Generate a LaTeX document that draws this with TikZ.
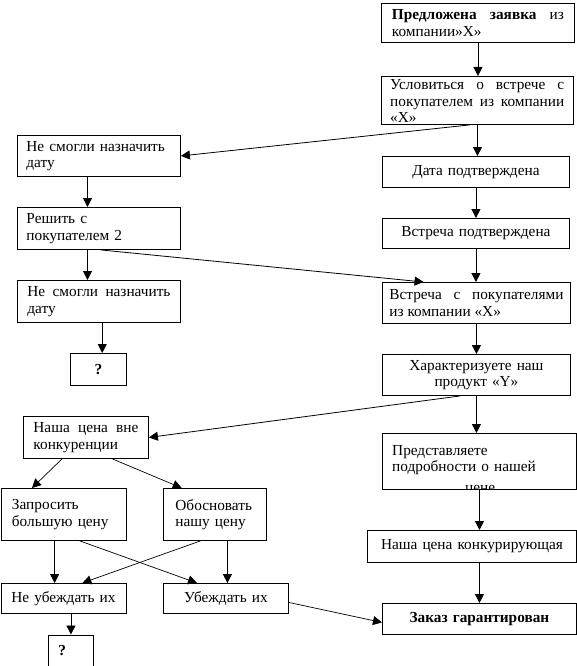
\documentclass[tikz,border=0pt]{standalone}
\usepackage{fontspec}
\setmainfont{Liberation Serif}
\usetikzlibrary{arrows.meta,calc}
\newcommand\boxfont{\fontsize{15.3}{16.5}\selectfont}
\begin{document}
\begin{tikzpicture}[x=1pt,y=-1pt,
  box/.style={draw, line width=0.9pt, rectangle, inner ysep=0pt, anchor=north west, font=\boxfont},
  txt/.style={anchor=north west, inner sep=0pt, font=\boxfont},
  arr/.style={-{Triangle[length=9pt,width=9pt]}, line width=0.8pt},
  thin/.style={line width=0.7pt}
]
\useasboundingbox[fill=white] (0,0) rectangle (577,666);

% right column
\node[box, minimum height=39pt, text width=172pt, inner xsep=10.5pt, align=justify] (b1) at (381,3)
  {\textbf{Предложена заявка} из\linebreak компании»Х»};
\node[box, minimum width=192pt, minimum height=48pt, inner sep=0pt] (b2) at (381,76) {};
\node[txt, text width=174pt, align=justify] (b2t) at (390,79.5)
  {Условиться о встрече с покупателем из компании «Х»};
\node[box, minimum height=31pt, text width=177pt, inner xsep=5pt, align=center] (b3) at (382,156)
  {Дата подтверждена};
\node[box, minimum height=30pt, text width=177pt, inner xsep=5pt, align=center] (b4) at (382,218)
  {Встреча подтверждена};
\node[box, minimum height=41pt, text width=174pt, inner xsep=7pt, align=justify] (b5) at (382,282)
  {Встреча с покупателями\linebreak из компании «Х»};
\node[box, minimum height=41pt, text width=178pt, inner xsep=5pt, align=center] (b6) at (382,354)
  {Характеризуете наш\\продукт «Y»};
\node[box, minimum width=194pt, minimum height=56pt, inner sep=0pt] (b7) at (382,433) {};
\begin{scope}
  \clip (b7.north west) rectangle (b7.south east);
  \node[txt, text width=180pt, align=left] (b7t) at (392,445)
    {Представляете\\подробности о нашей\\[4pt]\hspace*{73pt}цене};
\end{scope}
\node[box, minimum height=32pt, text width=199pt, inner xsep=5pt, align=center] (b8) at (367,530)
  {Наша цена конкурирующая};
\node[box, minimum height=31pt, text width=184pt, inner xsep=5pt, align=center] (b9) at (382,603)
  {\textbf{Заказ гарантирован}};

% left column
\node[box, minimum height=41pt, text width=145pt, inner xsep=9pt, align=left] (l1) at (17,135)
  {Не смогли назначить\\дату};
\node[box, minimum height=42pt, text width=145pt, inner xsep=9pt, align=left] (l2) at (17,207)
  {Решить с\\покупателем 2};
\node[box, minimum height=42pt, text width=143pt, inner xsep=10pt, align=justify] (l3) at (17,280)
  {Не смогли назначить\linebreak дату};
\node[box, minimum height=32pt, text width=46pt, inner xsep=5pt, align=center] (l4) at (70,353)
  {\textbf{?}};
\node[box, minimum height=42pt, text width=105pt, inner xsep=10pt, align=justify] (l5) at (23,416)
  {Наша цена вне\linebreak конкуренции};
\node[box, minimum height=52pt, text width=103pt, inner xsep=11pt, align=left] (l6) at (0.5,488)
  {Запросить\\большую цену};
\node[box, minimum height=52pt, text width=79pt, inner xsep=12pt, align=left] (l7) at (163,488)
  {Обосновать\\нашу цену};
\node[box, minimum height=30pt, text width=115pt, inner xsep=5pt, align=center] (l8) at (0.5,583)
  {Не убеждать их};
\node[box, minimum height=30pt, text width=115pt, inner xsep=5pt, align=center] (l9) at (163,583)
  {Убеждать их};
\node[box, minimum height=31pt, text width=35pt, inner xsep=5pt, align=left] (l10) at (48,634.5)
  {\hspace*{5pt}\textbf{?}};

% right column arrows
\draw[arr] (b1.south) -- (b1.south |- b2.north);
\draw[arr] (b2.south) -- (b2.south |- b3.north);
\draw[arr] (b3.south) -- (b3.south |- b4.north);
\draw[arr] (b4.south) -- (b4.south |- b5.north);
\draw[arr] (b5.south) -- (b5.south |- b6.north);
\draw[arr] (b6.south) -- (b6.south |- b7.north);
\draw[arr] (b7.south) -- (b7.south |- b8.north);
\draw[arr] (b7.south |- b8.south) -- (b7.south |- b9.north);

% cross arrows
\draw[arr] ($(b2.south west)!0.46!(b2.south east)$) -- (l1.east);
\coordinate (l1s) at ($(l1.south west)!0.43!(l1.south east)$);
\draw[arr] (l1s) -- (l1s |- l2.north);
\coordinate (l2s) at ($(l2.south west)!0.43!(l2.south east)$);
\draw[arr] (l2s) -- (l2s |- l3.north);
\draw[arr] ($(l2.south west)!0.51!(l2.south east)$) -- ($(b5.north west)!0.22!(b5.north east)$);
\coordinate (l3s) at ($(l3.south west)!0.52!(l3.south east)$);
\draw[arr] (l3s) -- (l3s |- l4.north);
\draw[arr] ($(b6.south west)!0.415!(b6.south east)$) -- (l5.east);
\draw[arr,thin] ($(l5.south west)!0.31!(l5.south east)$) -- ($(l6.north west)!0.25!(l6.north east)$);
\draw[arr,thin] ($(l5.south west)!0.71!(l5.south east)$) -- ($(l7.north west)!0.18!(l7.north east)$);
\coordinate (l6s) at ($(l6.south west)!0.43!(l6.south east)$);
\draw[arr] (l6s) -- (l6s |- l8.north);
\coordinate (l7s) at ($(l7.south west)!0.62!(l7.south east)$);
\draw[arr] (l7s) -- (l7s |- l9.north);
\draw[arr,thin] ($(l6.south west)!0.63!(l6.south east)$) -- ($(l9.north west)!0.27!(l9.north east)$);
\draw[arr,thin] ($(l7.south west)!0.36!(l7.south east)$) -- ($(l8.north west)!0.65!(l8.north east)$);
\draw[arr] (l10.north |- l8.south) -- (l10.north);
\draw[arr,thin] ($(l9.north east)!0.63!(l9.south east)$) -- ($(b9.north west)!0.61!(b9.south west)$);
\end{tikzpicture}
\end{document}
